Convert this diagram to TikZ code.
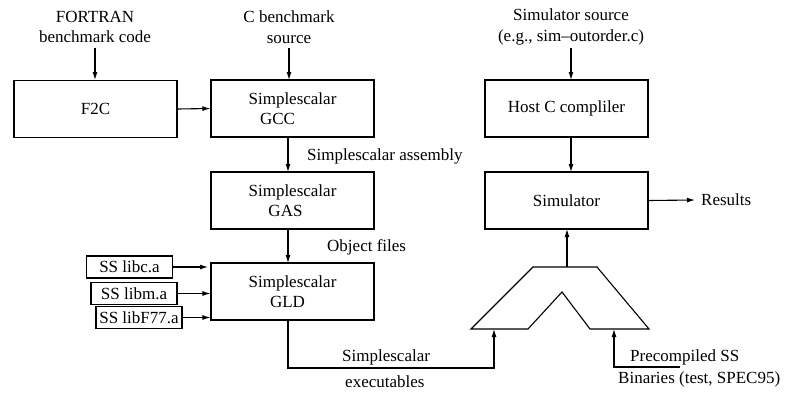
\documentclass[tikz,border=0pt]{standalone}
\usepackage{fontspec}
\setmainfont{Liberation Serif}
\usetikzlibrary{arrows.meta}
\begin{document}
\begin{tikzpicture}[x=1pt,y=-1pt,
  every node/.style={font=\fontsize{17}{20.5}\selectfont, inner sep=0pt},
  blk/.style={draw, line width=1.1pt, minimum width=163pt, minimum height=57pt, align=center},
  lib/.style={draw, line width=1.1pt, minimum width=86pt, minimum height=22pt},
  lbl/.style={align=center},
  conn/.style={line width=1.1pt},
  arr/.style={line width=1.1pt, -{Latex[length=8pt,width=5pt]}}]
\useasboundingbox (0,0) rectangle (785,394);
% boxes
\node[blk] (f2c) at (95.5,109) {F2C};
\node[blk] (gcc) at (292.5,108.5) {Simplescalar\\GCC\hspace*{30pt}};
\node[blk] (gas) at (292.5,200.5) {Simplescalar\\GAS\hspace*{14pt}};
\node[blk] (gld) at (292.5,291.5) {Simplescalar\\GLD\hspace*{10pt}};
\node[blk] (host) at (566.5,108.5) {Host C compliler};
\node[blk] (sim) at (566.5,200.5) {Simulator};
% libs
\node[lib] (libc) at (129.5,267) {SS libc.a};
\node[lib] (libm) at (134,293.5) {SS libm.a};
\node[lib] (libf) at (139,317.5) {SS libF77.a};
% top texts
\node[lbl] (fort) at (95,27) {FORTRAN\\benchmark code};
\node[lbl] (csrc) at (289,27) {C benchmark\\source};
\node[lbl] (ssrc) at (571,27) {Simulator source\\(e.g., sim\textendash outorder.c)};
% labels
\node[anchor=west] (asm) at (307,156) {Simplescalar assembly};
\node[anchor=west] (obj) at (327,247) {Object files};
\node[anchor=west] (ex1) at (342,357) {Simplescalar};
\node[anchor=west] (ex2) at (345,382) {executables};
\node[anchor=west] (res) at (701,200) {Results};
\node[anchor=west] (pre1) at (630,357) {Precompiled SS};
\node[anchor=west] (pre2) at (618,379) {Binaries (test, SPEC95)};
% trapezoid (mux)
\coordinate (t1) at (471,329);
\coordinate (t2) at (533,267);
\coordinate (t3) at (597,267);
\coordinate (t4) at (649,329);
\coordinate (t5) at (590,329);
\coordinate (t6) at (562,292);
\coordinate (t7) at (528,329);
\draw[conn, line join=miter] (t1) -- (t2) -- (t3) -- (t4) -- (t5) -- (t6) -- (t7) -- cycle;
\coordinate (mtop) at (567,267);
\coordinate (min1) at (494,329);
\coordinate (min2) at (614,329);
% arrows
\draw[arr] (95,48) -- (95,80);
\draw[arr] (289,48) -- (289,80);
\draw[arr] (571,48) -- (571,80);
\draw[arr] (f2c.east) -- (gcc.west);
\draw[arr] (288,137) -- (288,172);
\draw[arr] (288,229) -- (288,263);
\draw[arr] (libc.east) -- (208,267);
\draw[arr] (libm.east) -- (gld.west |- libm.east);
\draw[arr] (libf.east) -- (gld.west |- libf.east);
\draw[arr] (571,137) -- (571,172);
\draw[arr] (sim.east) -- (695,200);
\draw[arr] (mtop) -- (567,229);
\coordinate (gldout) at (288,320);
\coordinate (exc) at (288,368);
\draw[arr] (gldout) -- (exc) -| (min1);
\coordinate (pc) at (680,367);
\draw[arr] (pc) -| (min2);
\end{tikzpicture}
\end{document}
